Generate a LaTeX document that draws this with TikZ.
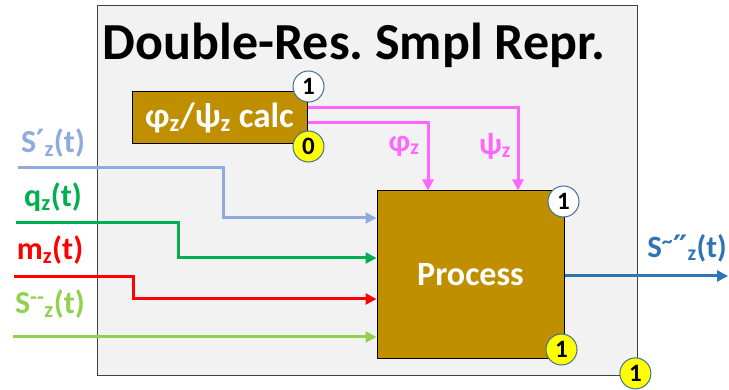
\documentclass[tikz,border=0pt]{standalone}
\usepackage{fontspec}
\setmainfont{Carlito}
\newfontfamily\primefont{DejaVu Sans}
\usepackage{tikz}
\usetikzlibrary{arrows.meta, positioning, calc}
\definecolor{bggray}{HTML}{F2F2F2}
\definecolor{framegray}{HTML}{404040}
\definecolor{gold}{HTML}{BF8F00}
\definecolor{badgeblue}{HTML}{41719C}
\definecolor{badgeyellow}{HTML}{FFFF00}
\definecolor{sblue}{HTML}{8FAADC}
\definecolor{qgreen}{HTML}{00B050}
\definecolor{mred}{HTML}{FF0000}
\definecolor{dgreen}{HTML}{92D050}
\definecolor{anglepink}{HTML}{FF66FF}
\definecolor{outblue}{HTML}{2E75B6}
\newcommand{\pr}{{\primefont ′}}
\tikzstyle{frame} = [rectangle, draw=framegray, fill=bggray, line width=0.8pt,
  minimum width=540pt, minimum height=370pt]
\tikzstyle{goldbox} = [rectangle, draw=black, fill=gold, text=white, line width=1pt,
  font=\bfseries, inner sep=0pt]
\tikzstyle{badge} = [circle, draw=badgeblue, fill=white, line width=1pt, minimum size=31pt,
  inner sep=0pt, font=\fontsize{25}{28}\selectfont\bfseries]
\tikzstyle{sigline} = [line width=3pt, -{Triangle[length=11pt,width=11pt]}]
\tikzstyle{siglabel} = [font=\fontsize{32}{36}\selectfont\bfseries, inner sep=0pt]

\begin{document}
\begin{tikzpicture}[x=1pt, y=-1pt]
  \useasboundingbox (0,0) rectangle (729,390);

  % === FRAME ===
  \node (frame) [frame] at (367,190) {};
  \node (title) at (354,45) {\fontsize{52}{60}\selectfont\bfseries Double-Res.\ Smpl Repr.};

  % === BLOCKS ===
  \node (calc) [goldbox, minimum width=175pt, minimum height=52pt,
    font=\fontsize{35}{40}\selectfont\bfseries] at (219.5,118) {φ\textsubscript{z}/ψ\textsubscript{z} calc};
  \node (proc) [goldbox, minimum width=187pt, minimum height=168pt,
    font=\fontsize{34}{40}\selectfont\bfseries] at (470.5,275) {Process};

  % === INPUTS ===
  \coordinate (sIn) at (18,168);
  \coordinate (qIn) at (16,223);
  \coordinate (mIn) at (14,277);
  \coordinate (dIn) at (13,337);
  \coordinate (out) at (728,276);

  \node (sLbl) [siglabel, text=sblue] at (53,143) {S\pr\textsubscript{z}(t)};
  \node (qLbl) [siglabel, text=qgreen] at (53,197) {q\textsubscript{z}(t)};
  \node (mLbl) [siglabel, text=mred] at (50,250) {m\textsubscript{z}(t)};
  \node (dLbl) [siglabel, text=dgreen] at (50,304) {S\textsuperscript{-{}-}\textsubscript{z}(t)};
  \node (oLbl) [siglabel, text=outblue, anchor=east, font=\fontsize{31}{36}\selectfont\bfseries]
    at (727,248) {S\textsuperscript{\textasciitilde}\pr\kern-2pt\pr\textsubscript{z}(t)};

  % === ANGLE LABELS ===
  \node (phi) [siglabel, text=anglepink, font=\fontsize{31}{34}\selectfont\bfseries] at (404,146) {φ\textsubscript{z}};
  \node (psi) [siglabel, text=anglepink, font=\fontsize{31}{34}\selectfont\bfseries] at (495,146) {ψ\textsubscript{z}};

  % === ARROWS ===
  \draw[sigline, sblue]  (sIn) -- ++(205,0) |- ([yshift=57pt]proc.west);
  \draw[sigline, qgreen] (qIn) -- ++(162,0) |- ([yshift=17pt]proc.west);
  \draw[sigline, mred]   (mIn) -- ++(119,0) |- ([yshift=-24pt]proc.west);
  \draw[sigline, dgreen] (dIn) -- (dIn -| proc.west);
  \draw[sigline, anglepink] ([yshift=10pt]calc.east) -| ([xshift=47.5pt]proc.north);
  \draw[sigline, anglepink] ([yshift=-5pt]calc.east) -| ([xshift=-42.5pt]proc.north);
  \draw[sigline, outblue] (proc.east |- out) -- (out);

  % === BADGES ===
  \node (b1) [badge] at ([shift={(1pt,5pt)}]calc.north east) {1};
  \node (b2) [badge, fill=badgeyellow] at ([shift={(1pt,-2pt)}]calc.south east) {0};
  \node (b3) [badge] at ([shift={(-1pt,-11pt)}]proc.north east) {1};
  \node (b4) [badge, fill=badgeyellow] at ([shift={(-3pt,10pt)}]proc.south east) {1};
  \node (b5) [badge, fill=badgeyellow] at ([shift={(-2pt,2pt)}]frame.south east) {1};

\end{tikzpicture}
\end{document}
